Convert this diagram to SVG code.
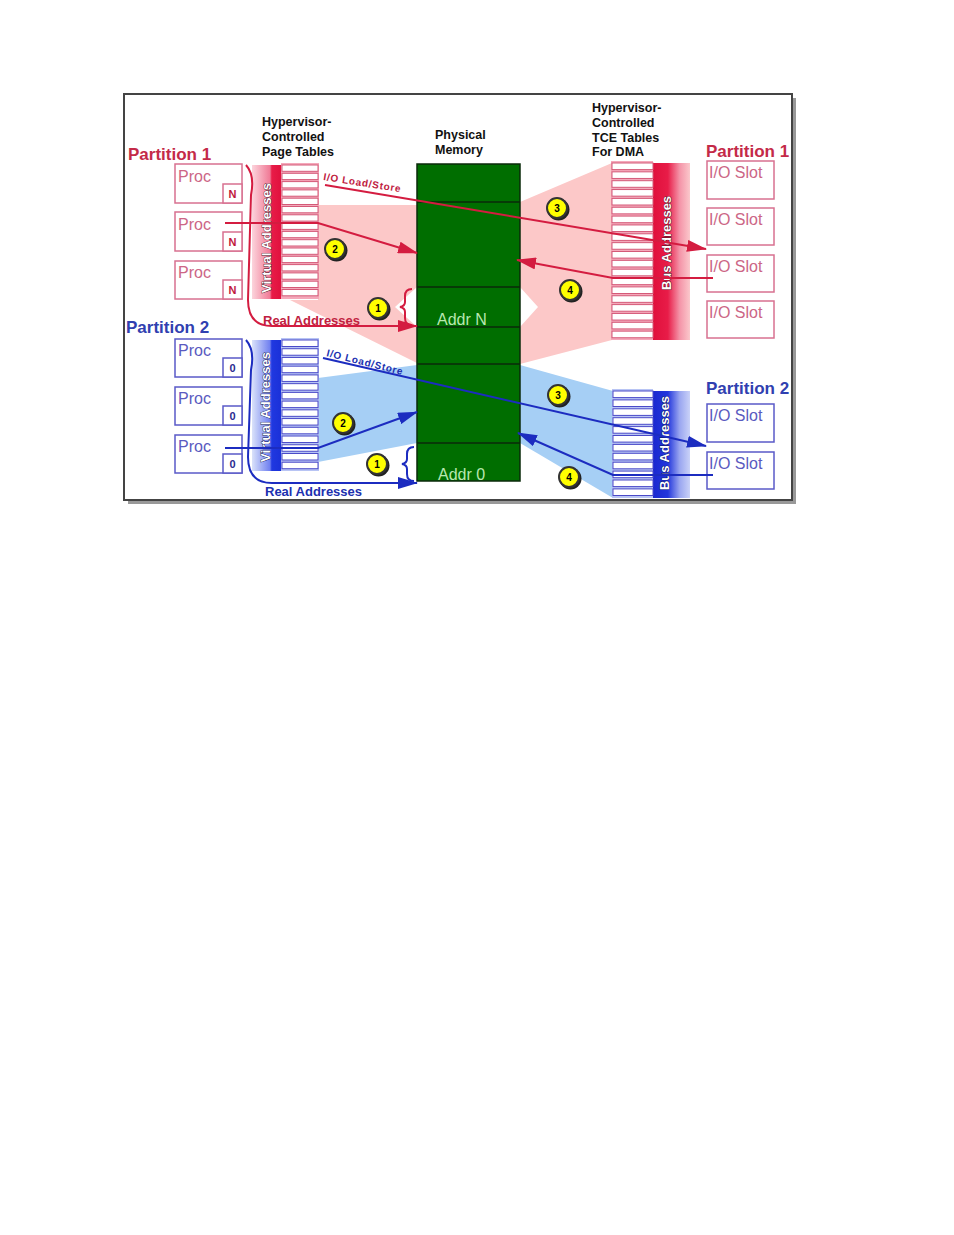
<svg xmlns="http://www.w3.org/2000/svg" width="954" height="1235" viewBox="0 0 954 1235">
<style>
text{font-family:"Liberation Sans",Arial,sans-serif}
.hdr{font-size:12.5px;font-weight:bold;fill:#111}
.ptR{font-size:17px;font-weight:bold;fill:#c42a48}
.ptB{font-size:17px;font-weight:bold;fill:#3040b0}
.boxR{fill:#fff;stroke:#d87090;stroke-width:1.5}
.boxB{fill:#fff;stroke:#5a5ac8;stroke-width:1.5}
.procR{font-size:16px;fill:#cc6686}
.procB{font-size:16px;fill:#5a5ac0}
.nR{font-size:11px;font-weight:bold;fill:#c0183c;text-anchor:middle}
.nB{font-size:11px;font-weight:bold;fill:#2a2a90;text-anchor:middle}
.cellR{fill:#fff;stroke:#d45a78;stroke-width:1}
.cellB{fill:#fff;stroke:#4a4ac8;stroke-width:1}
.bar{font-size:13px;font-weight:bold;fill:#fff;stroke:#3a0a18;stroke-width:0.8;paint-order:stroke;text-anchor:middle}
.barB{font-size:13px;font-weight:bold;fill:#fff;stroke:#0a1050;stroke-width:0.8;paint-order:stroke;text-anchor:middle}
.lnR{fill:none;stroke:#d41c40;stroke-width:2}
.lnB{fill:none;stroke:#1c2cc0;stroke-width:2}
.ldR{font-size:10px;font-weight:bold;fill:#c02040}
.ldB{font-size:10px;font-weight:bold;fill:#2030b0}
.raR{font-size:13px;font-weight:bold;fill:#c02040}
.raB{font-size:13px;font-weight:bold;fill:#2030b0}
.sh{fill:#222}
.yc{fill:#ffff00;stroke:#333;stroke-width:2}
.num{font-size:10px;font-weight:bold;fill:#000;text-anchor:middle}
.mem{font-size:16px;fill:#b8e8b0}
.mline{stroke:#0a2a0a;stroke-width:1.5}
</style>
<defs>
<marker id="ahR" viewBox="0 0 20 12" refX="19" refY="6" markerWidth="20" markerHeight="12" markerUnits="userSpaceOnUse" orient="auto"><path d="M0,0 L20,6 L0,12 z" fill="#d41c40"/></marker>
<marker id="ahB" viewBox="0 0 20 12" refX="19" refY="6" markerWidth="20" markerHeight="12" markerUnits="userSpaceOnUse" orient="auto"><path d="M0,0 L20,6 L0,12 z" fill="#1c2cc0"/></marker>
<linearGradient id="vaR" x1="0" y1="0" x2="1" y2="0">
<stop offset="0" stop-color="#fcd4dc"/><stop offset="0.6" stop-color="#f07a96"/><stop offset="0.66" stop-color="#e81c48"/><stop offset="1" stop-color="#e0103c"/>
</linearGradient>
<linearGradient id="vaB" x1="0" y1="0" x2="1" y2="0">
<stop offset="0" stop-color="#dae2fa"/><stop offset="0.6" stop-color="#7080f0"/><stop offset="0.66" stop-color="#2038e0"/><stop offset="1" stop-color="#1a30d8"/>
</linearGradient>
<linearGradient id="baR" x1="0" y1="0" x2="1" y2="0">
<stop offset="0" stop-color="#e0103c"/><stop offset="0.4" stop-color="#e81c48"/><stop offset="0.72" stop-color="#f494a8"/><stop offset="1" stop-color="#fbc8cc"/>
</linearGradient>
<linearGradient id="baB" x1="0" y1="0" x2="1" y2="0">
<stop offset="0" stop-color="#1a28d0"/><stop offset="0.4" stop-color="#2236dc"/><stop offset="0.72" stop-color="#9aa6f0"/><stop offset="1" stop-color="#cad2f8"/>
</linearGradient>
</defs>

<g id="frame">
<rect x="128" y="98" width="668" height="406" fill="#999"/>
<rect x="124" y="94" width="668" height="406" fill="#fff" stroke="#444" stroke-width="2"/>
</g>

<g id="regions">
<polygon points="318,205 417,205 417,287 395,307 417,327 417,363 290,300 318,300" fill="#fcc8c8"/>
<polygon points="520,202 612,163 612,340 520,364 520,327 538,307 520,287" fill="#fcc8c8"/>
<polygon points="318,378 417,365 417,443 318,462" fill="#a6cff5"/>
<polygon points="520,365 613,391 613,498 520,443" fill="#a6cff5"/>
</g>

<g id="headers">
<text class="hdr" x="262" y="126">Hypervisor-</text>
<text class="hdr" x="262" y="141">Controlled</text>
<text class="hdr" x="262" y="156">Page Tables</text>
<text class="hdr" x="435" y="139">Physical</text>
<text class="hdr" x="435" y="154">Memory</text>
<text class="hdr" x="592" y="112">Hypervisor-</text>
<text class="hdr" x="592" y="127">Controlled</text>
<text class="hdr" x="592" y="141.5">TCE Tables</text>
<text class="hdr" x="592" y="156">For DMA</text>
</g>

<g id="partition-labels">
<text class="ptR" x="128" y="160">Partition 1</text>
<text class="ptB" x="126" y="333">Partition 2</text>
<text class="ptR" x="706" y="157">Partition 1</text>
<text class="ptB" x="706" y="394">Partition 2</text>
</g>

<g id="memory">
<rect x="417" y="164" width="103" height="317" fill="#006e00" stroke="#0a2a0a" stroke-width="1.5"/>
<line class="mline" x1="417" y1="202" x2="520" y2="202"/>
<line class="mline" x1="417" y1="287" x2="520" y2="287"/>
<line class="mline" x1="417" y1="327" x2="520" y2="327"/>
<line class="mline" x1="417" y1="364" x2="520" y2="364"/>
<line class="mline" x1="417" y1="443" x2="520" y2="443"/>
<text class="mem" x="437" y="325">Addr N</text>
<text class="mem" x="438" y="480">Addr 0</text>
</g>

<g id="page-table-1">
<rect x="252" y="165" width="30" height="134" fill="url(#vaR)"/>
<rect x="281" y="163" width="38" height="136" fill="#f4a8ba"/>
<rect class="cellR" x="282" y="165" width="36" height="6.3"/>
<rect class="cellR" x="282" y="173.3" width="36" height="6.3"/>
<rect class="cellR" x="282" y="181.6" width="36" height="6.3"/>
<rect class="cellR" x="282" y="189.9" width="36" height="6.3"/>
<rect class="cellR" x="282" y="198.2" width="36" height="6.3"/>
<rect class="cellR" x="282" y="206.5" width="36" height="6.3"/>
<rect class="cellR" x="282" y="214.8" width="36" height="6.3"/>
<rect class="cellR" x="282" y="223.1" width="36" height="6.3"/>
<rect class="cellR" x="282" y="231.4" width="36" height="6.3"/>
<rect class="cellR" x="282" y="239.7" width="36" height="6.3"/>
<rect class="cellR" x="282" y="248" width="36" height="6.3"/>
<rect class="cellR" x="282" y="256.3" width="36" height="6.3"/>
<rect class="cellR" x="282" y="264.6" width="36" height="6.3"/>
<rect class="cellR" x="282" y="272.9" width="36" height="6.3"/>
<rect class="cellR" x="282" y="281.2" width="36" height="6.3"/>
<rect class="cellR" x="282" y="289.5" width="36" height="6.3"/>
<text class="bar" transform="translate(271,238) rotate(-90)">Virtual Addresses</text>
</g>

<g id="page-table-2">
<rect x="252" y="340" width="30" height="131" fill="url(#vaB)"/>
<rect x="281" y="338" width="38" height="133" fill="#b8c4f4"/>
<rect class="cellB" x="282" y="340" width="36" height="6.5"/>
<rect class="cellB" x="282" y="348.73" width="36" height="6.5"/>
<rect class="cellB" x="282" y="357.46" width="36" height="6.5"/>
<rect class="cellB" x="282" y="366.19" width="36" height="6.5"/>
<rect class="cellB" x="282" y="374.92" width="36" height="6.5"/>
<rect class="cellB" x="282" y="383.65" width="36" height="6.5"/>
<rect class="cellB" x="282" y="392.38" width="36" height="6.5"/>
<rect class="cellB" x="282" y="401.11" width="36" height="6.5"/>
<rect class="cellB" x="282" y="409.84" width="36" height="6.5"/>
<rect class="cellB" x="282" y="418.57" width="36" height="6.5"/>
<rect class="cellB" x="282" y="427.3" width="36" height="6.5"/>
<rect class="cellB" x="282" y="436.03" width="36" height="6.5"/>
<rect class="cellB" x="282" y="444.76" width="36" height="6.5"/>
<rect class="cellB" x="282" y="453.49" width="36" height="6.5"/>
<rect class="cellB" x="282" y="462.22" width="36" height="6.5"/>
<text class="barB" transform="translate(270,407) rotate(-90)">Virtual Addresses</text>
</g>

<g id="tce-table-1">
<rect x="653" y="163" width="37" height="177" fill="url(#baR)"/>
<rect x="611" y="161" width="42" height="179" fill="#f4a8ba"/>
<rect class="cellR" x="612" y="163" width="41" height="6.6"/>
<rect class="cellR" x="612" y="171.85" width="41" height="6.6"/>
<rect class="cellR" x="612" y="180.7" width="41" height="6.6"/>
<rect class="cellR" x="612" y="189.55" width="41" height="6.6"/>
<rect class="cellR" x="612" y="198.4" width="41" height="6.6"/>
<rect class="cellR" x="612" y="207.25" width="41" height="6.6"/>
<rect class="cellR" x="612" y="216.1" width="41" height="6.6"/>
<rect class="cellR" x="612" y="224.95" width="41" height="6.6"/>
<rect class="cellR" x="612" y="233.8" width="41" height="6.6"/>
<rect class="cellR" x="612" y="242.65" width="41" height="6.6"/>
<rect class="cellR" x="612" y="251.5" width="41" height="6.6"/>
<rect class="cellR" x="612" y="260.35" width="41" height="6.6"/>
<rect class="cellR" x="612" y="269.2" width="41" height="6.6"/>
<rect class="cellR" x="612" y="278.05" width="41" height="6.6"/>
<rect class="cellR" x="612" y="286.9" width="41" height="6.6"/>
<rect class="cellR" x="612" y="295.75" width="41" height="6.6"/>
<rect class="cellR" x="612" y="304.6" width="41" height="6.6"/>
<rect class="cellR" x="612" y="313.45" width="41" height="6.6"/>
<rect class="cellR" x="612" y="322.3" width="41" height="6.6"/>
<rect class="cellR" x="612" y="331.15" width="41" height="6.6"/>
<text class="bar" transform="translate(671,243) rotate(-90)">Bus Addresses</text>
</g>

<g id="tce-table-2">
<rect x="653" y="391" width="37" height="107" fill="url(#baB)"/>
<rect x="612" y="389" width="41" height="109" fill="#b8c4f4"/>
<rect class="cellB" x="613" y="391" width="40" height="6.6"/>
<rect class="cellB" x="613" y="399.9" width="40" height="6.6"/>
<rect class="cellB" x="613" y="408.8" width="40" height="6.6"/>
<rect class="cellB" x="613" y="417.7" width="40" height="6.6"/>
<rect class="cellB" x="613" y="426.6" width="40" height="6.6"/>
<rect class="cellB" x="613" y="435.5" width="40" height="6.6"/>
<rect class="cellB" x="613" y="444.4" width="40" height="6.6"/>
<rect class="cellB" x="613" y="453.3" width="40" height="6.6"/>
<rect class="cellB" x="613" y="462.2" width="40" height="6.6"/>
<rect class="cellB" x="613" y="471.1" width="40" height="6.6"/>
<rect class="cellB" x="613" y="480" width="40" height="6.6"/>
<rect class="cellB" x="613" y="488.9" width="40" height="6.6"/>
<text class="barB" transform="translate(669,443) rotate(-90)">Bus Addresses</text>
</g>

<g id="proc-p1-1"><rect class="boxR" x="175" y="164" width="67" height="39"/><rect class="boxR" x="223" y="184" width="19" height="19"/><text class="procR" x="178" y="182">Proc</text><text class="nR" x="232.5" y="198">N</text></g>
<g id="proc-p1-2"><rect class="boxR" x="175" y="212" width="67" height="39"/><rect class="boxR" x="223" y="232" width="19" height="19"/><text class="procR" x="178" y="230">Proc</text><text class="nR" x="232.5" y="246">N</text></g>
<g id="proc-p1-3"><rect class="boxR" x="175" y="261" width="67" height="38"/><rect class="boxR" x="223" y="280" width="19" height="19"/><text class="procR" x="178" y="278">Proc</text><text class="nR" x="232.5" y="294">N</text></g>

<g id="proc-p2-1"><rect class="boxB" x="175" y="339" width="67" height="38"/><rect class="boxB" x="223" y="358" width="19" height="19"/><text class="procB" x="178" y="356">Proc</text><text class="nB" x="232.5" y="372">0</text></g>
<g id="proc-p2-2"><rect class="boxB" x="175" y="387" width="67" height="38"/><rect class="boxB" x="223" y="406" width="19" height="19"/><text class="procB" x="178" y="404">Proc</text><text class="nB" x="232.5" y="420">0</text></g>
<g id="proc-p2-3"><rect class="boxB" x="175" y="435" width="67" height="38"/><rect class="boxB" x="223" y="454" width="19" height="19"/><text class="procB" x="178" y="452">Proc</text><text class="nB" x="232.5" y="468">0</text></g>

<g id="io-p1-1"><rect class="boxR" x="707" y="161" width="67" height="38"/><text class="procR" x="709" y="178">I/O Slot</text></g>
<g id="io-p1-2"><rect class="boxR" x="707" y="208" width="67" height="37"/><text class="procR" x="709" y="225">I/O Slot</text></g>
<g id="io-p1-3"><rect class="boxR" x="707" y="255" width="67" height="37"/><text class="procR" x="709" y="272">I/O Slot</text></g>
<g id="io-p1-4"><rect class="boxR" x="707" y="301" width="67" height="37"/><text class="procR" x="709" y="318">I/O Slot</text></g>
<g id="io-p2-1"><rect class="boxB" x="707" y="404" width="67" height="38"/><text class="procB" x="709" y="421">I/O Slot</text></g>
<g id="io-p2-2"><rect class="boxB" x="707" y="452" width="67" height="37"/><text class="procB" x="709" y="469">I/O Slot</text></g>

<g id="connectors">
<path class="lnR" d="M246,165 Q255,175 251,195 L248,300 Q248,326 272,326 L417,326" marker-end="url(#ahR)"/>
<polyline class="lnR" points="225,223 318,223 417,253" marker-end="url(#ahR)"/>
<line class="lnR" x1="325" y1="185" x2="706" y2="249" marker-end="url(#ahR)"/>
<polyline class="lnR" points="713,278 613,278 517,260" marker-end="url(#ahR)"/>
<path class="lnR" d="M412,289 Q405,289 405,296 L405,302 Q405,306 400,307 Q405,308 405,312 L405,318 Q405,325 412,325"/>
<path class="lnB" d="M246,340 Q255,350 251,370 L248,457 Q248,483 272,483 L417,483" marker-end="url(#ahB)"/>
<polyline class="lnB" points="225,448 318,448 417,412" marker-end="url(#ahB)"/>
<line class="lnB" x1="323" y1="358" x2="706" y2="446" marker-end="url(#ahB)"/>
<polyline class="lnB" points="713,475 613,475 518,433" marker-end="url(#ahB)"/>
<path class="lnB" d="M414,447 Q407,447 407,454 L407,459 Q407,463 402,464 Q407,465 407,469 L407,474 Q407,481 414,481"/>
</g>

<g id="connector-labels">
<text class="ldR" transform="translate(323,180) rotate(9)" textLength="78" lengthAdjust="spacing">I/O Load/Store</text>
<text class="ldB" transform="translate(326,356) rotate(14)" textLength="78" lengthAdjust="spacing">I/O Load/Store</text>
<text class="raR" x="263" y="325" textLength="97" lengthAdjust="spacing">Real Addresses</text>
<text class="raB" x="265" y="496" textLength="97" lengthAdjust="spacing">Real Addresses</text>
</g>

<g id="step-markers">
<g id="r1"><circle class="sh" cx="379.5" cy="309.5" r="11"/><circle class="yc" cx="378" cy="308" r="10"/><text class="num" x="378" y="312">1</text></g>
<g id="r2"><circle class="sh" cx="336.5" cy="250.5" r="11"/><circle class="yc" cx="335" cy="249" r="10"/><text class="num" x="335" y="253">2</text></g>
<g id="r3"><circle class="sh" cx="558.5" cy="209.5" r="11"/><circle class="yc" cx="557" cy="208" r="10"/><text class="num" x="557" y="212">3</text></g>
<g id="r4"><circle class="sh" cx="571.5" cy="291.5" r="11"/><circle class="yc" cx="570" cy="290" r="10"/><text class="num" x="570" y="294">4</text></g>
<g id="b1"><circle class="sh" cx="378.5" cy="465.5" r="11"/><circle class="yc" cx="377" cy="464" r="10"/><text class="num" x="377" y="468">1</text></g>
<g id="b2"><circle class="sh" cx="344.5" cy="424.5" r="11"/><circle class="yc" cx="343" cy="423" r="10"/><text class="num" x="343" y="427">2</text></g>
<g id="b3"><circle class="sh" cx="559.5" cy="396.5" r="11"/><circle class="yc" cx="558" cy="395" r="10"/><text class="num" x="558" y="399">3</text></g>
<g id="b4"><circle class="sh" cx="570.5" cy="478.5" r="11"/><circle class="yc" cx="569" cy="477" r="10"/><text class="num" x="569" y="481">4</text></g>
</g>
</svg>
